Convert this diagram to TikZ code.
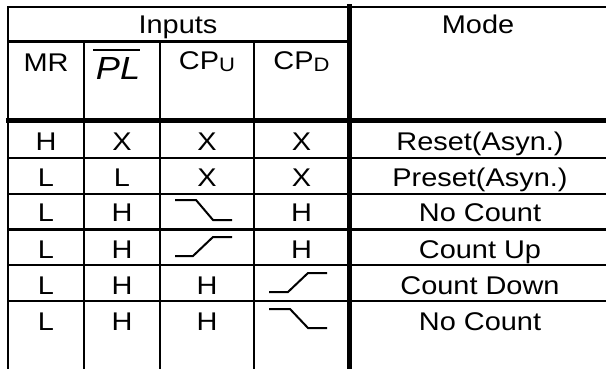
\documentclass[tikz,border=0pt]{standalone}
\usepackage{fontspec}
\setmainfont{Liberation Sans}[FakeStretch=1.13]
\usepackage{tikz}
\usetikzlibrary{calc}
\newcommand{\lowsub}[1]{\raisebox{-2pt}{\fontsize{19.5}{20}\selectfont #1}}

\begin{document}
\begin{tikzpicture}[x=1pt,y=-1pt,
	cell/.style={anchor=base,inner sep=0pt,font=\fontsize{25.6}{30}\selectfont},
	tabline/.style={line width=2.5pt,line cap=rect},
	boldline/.style={line width=5pt,line cap=rect},
	wave/.style={line width=2pt}]
		\useasboundingbox (0,0) rectangle (606,369);
		% frame and rules
		\draw[tabline] (8,7) -- (606,7);
		\draw[tabline] (8,41.5) -- (349.5,41.5);
		\draw[boldline] (8,120.5) -- (606,120.5);
		\foreach \y in {158,194,229.5,265,301}
			\draw[tabline] (8,\y) -- (606,\y);
		\draw[tabline] (8,7) -- (8,372);
		\foreach \x in {84,160,254}
			\draw[tabline] (\x,41.5) -- (\x,372);
		\draw[boldline] (349.5,7) -- (349.5,372);
		% header
		\node[cell] (inputs) at (178,34) {Inputs};
		\node[cell] (mode) at (478,34) {Mode};
		\node[cell] (mr) at (46,72) {MR};
		\node[cell,font=\fontsize{32}{36}\selectfont\itshape] (pl) at (118,80) {PL};
		\draw[line width=2pt] (93,50) -- (140,50);
		\node[cell] (cpu) at (207,70) {CP\lowsub{U}};
		\node[cell] (cpd) at (301.5,70) {CP\lowsub{D}};
		% rows
		\foreach \i/\y/\a/\b/\c/\d/\m in {1/150/H/X/X/X/Reset(Asyn.),
				2/186/L/L/X/X/Preset(Asyn.),
				3/222/L/H//H/No Count,
				4/258/L/H//H/Count Up,
				5/294/L/H/H//Count Down,
				6/330/L/H/H//No Count}{
			\node[cell] (mr\i) at (46,\y) {\a};
			\node[cell] (pl\i) at (122,\y) {\b};
			\node[cell] (cpu\i) at (207,\y) {\c};
			\node[cell] (cpd\i) at (301.5,\y) {\d};
			\node[cell] (mode\i) at (480,\y) {\m};
		}
		% clock edges
		\draw[wave] (175,200) -- (196,200) -- (213,220) -- (232,220);
		\draw[wave] (175,256) -- (193,256) -- (213,237) -- (232,237);
		\draw[wave] (269,292) -- (288,292) -- (308,273) -- (327,273);
		\draw[wave] (269,309) -- (290,309) -- (308,328) -- (327,328);
	\end{tikzpicture}
\end{document}
